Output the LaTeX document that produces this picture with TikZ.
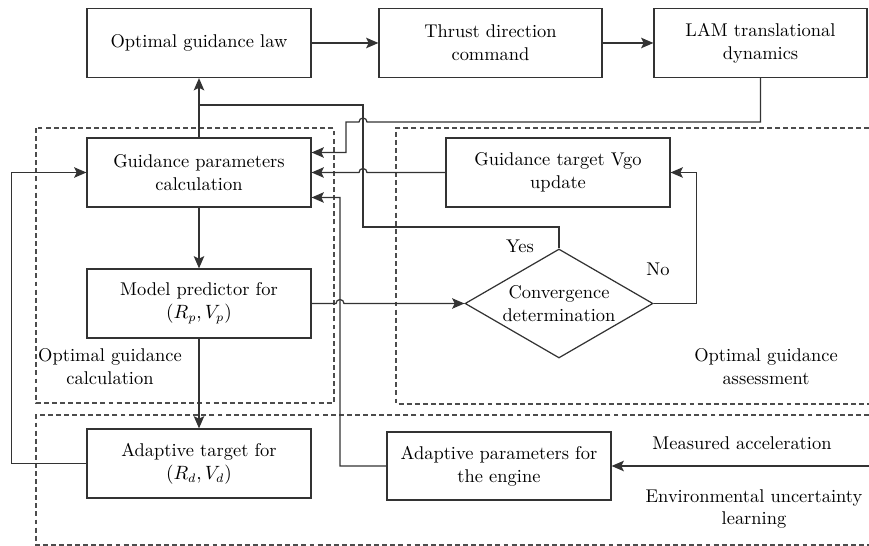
\documentclass[tikz,border=0pt]{standalone}
\usetikzlibrary{arrows.meta,shapes.geometric,calc}

\tikzset{
    block/.style = {draw = black!80, line width = 0.7pt, minimum width = 4.48cm, minimum height = 1.38cm, align = center, inner sep = 2pt},
    decision/.style = {draw = black!80, line width = 0.7pt, diamond, aspect = 1.72, inner sep = 0pt, minimum width = 3.76cm, minimum height = 2.18cm, align = center},
    flow/.style = {draw = black!80, line width = 0.7pt, -{Stealth[length = 7pt, width = 6pt, inset = 1.5pt]}},
    plain/.style = {draw = black!80, line width = 0.7pt},
    region/.style = {draw = black!70, line width = 0.6pt, dash pattern = on 2.8pt off 1.8pt},
    note/.style = {align = center, inner sep = 0pt},
}

\begin{document}
\begin{tikzpicture}[x = 0.02cm, y = -0.02cm, font = \fontsize{10.5}{13}\selectfont]
    \useasboundingbox (0, 0) rectangle (869, 546);

    % dashed regions
    \draw [region] (36, 128) rectangle (334, 403);
    \draw [region] (869, 128) -- (396, 128) -- (396, 404) -- (869, 404);
    \draw [region] (869, 415) -- (36, 415) -- (36, 545) -- (869, 545);

    % blocks
    \node [block] (law) at (199, 43) {Optimal guidance law};
    \node [block, minimum width = 4.46cm] (thrust) at (490.5, 43) {Thrust direction\\command};
    \node [block, minimum width = 4.26cm] (lam) at (760.5, 43) {LAM translational\\dynamics};
    \node [block] (params) at (199, 172.5) {Guidance parameters\\calculation};
    \node [block] (pred) at (199, 303.5) {Model predictor for\\$(R_p, V_p)$};
    \node [block] (target) at (199, 463.5) {Adaptive target for\\$(R_d, V_d)$};
    \node [block] (vgo) at (558, 172.5) {Guidance target Vgo\\update};
    \node [block, minimum height = 1.36cm] (adpar) at (499, 466) {Adaptive parameters for\\the engine};
    \node [decision] (conv) at (559, 303.5) {Convergence\\determination};

    % texts
    \node [note] (yes) at (520, 246) {Yes};
    \node [note] (no) at (658, 269) {No};
    \node [note] (calclbl) at (110, 367) {Optimal guidance\\calculation};
    \node [note] (assesslbl) at (766, 367) {Optimal guidance\\assessment};
    \node [note] (meas) at (742, 443) {Measured acceleration};
    \node [note] (envlbl) at (754, 509) {Environmental uncertainty\\learning};

    \coordinate (accin) at (869, 466);

    %%%%%%%%%%%%%%%%%%%%
    \draw [flow] (law) -- (thrust);
    \draw [flow] (thrust) -- (lam);
    \draw [flow] (params) -- (law);
    \draw [flow] (params) -- (pred);
    \draw [flow] (pred) -- (target);

    % yes branch joins the line to the guidance law
    \draw [plain] (conv.north) -- (conv.north |- 0, 227) -- (363, 227) -- (363, 105) -- (params.north |- 0, 105);
    % no branch
    \draw [flow] (conv.east) -- ++(43, 0) |- (vgo.east);

    % feedback into the parameter block, with hops
    \draw [flow] (lam.south) |- (367, 122) arc [start angle = 0, end angle = 180, radius = 0.08cm] -- (346, 122) |- ([yshift = 0.4cm]params.east);
    \draw [flow] (vgo.west) -- (367, 172.5) arc [start angle = 0, end angle = 180, radius = 0.08cm] -- (params.east);
    \draw [flow] (adpar.west) -| (340, 197.5) -- ([yshift = -0.5cm]params.east);
    \draw [flow] (pred.east) -- (336, 303.5) arc [start angle = 180, end angle = 0, radius = 0.08cm] -- (conv.west);
    \draw [flow] (target.west) -- ++(-75, 0) |- (params.west);

    \draw [flow] (accin) -- (adpar.east);
\end{tikzpicture}
\end{document}
